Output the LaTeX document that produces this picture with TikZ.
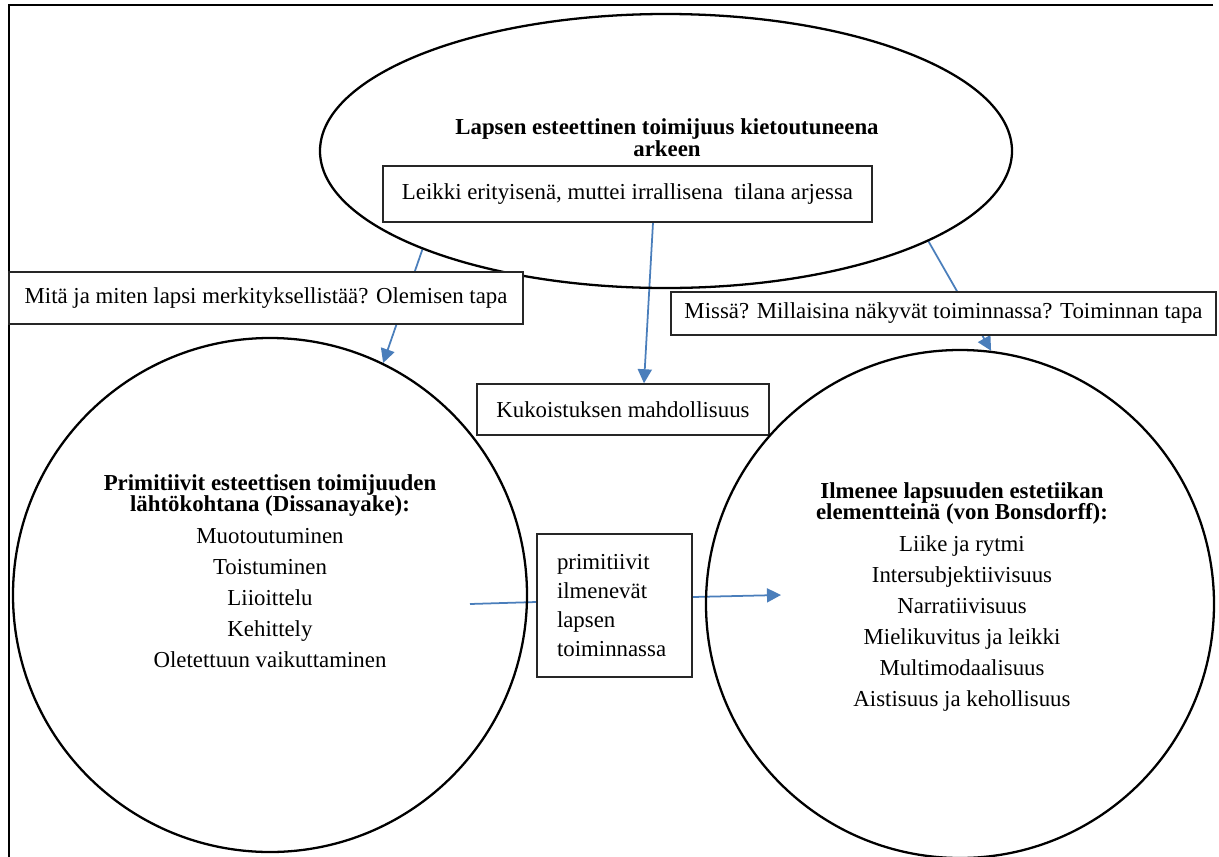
\documentclass[tikz,border=0pt]{standalone}
\usepackage{fontspec}
\setmainfont{Liberation Serif}
\definecolor{LinkBlue}{RGB}{74,126,187}
\usetikzlibrary{
    shapes.geometric,
    arrows.meta,
    backgrounds,
}

\begin{document}
\begin{tikzpicture}[
    ring/.style={ellipse, draw, line width=1.3pt, inner sep=0pt},
    box/.style={rectangle, draw=black!85, fill=white, line width=0.8pt, inner sep=0pt, font=\fontsize{13}{15}\selectfont},
    items/.style={font=\fontsize{13}{12}\selectfont, align=center},
    link/.style={draw=LinkBlue, line width=1pt},
    tip/.style={-{Triangle[length=8pt, width=8pt]}}
]
    \useasboundingbox (0,0) rectangle (24.38,-17.14);
    \draw[line width=1.1pt] (24.26,-0.10) -- (0.18,-0.10) -- (0.18,-17.3);

    \node[ring, minimum width=13.84cm, minimum height=5.48cm] (arki) at (13.32,-3.02) {};
    \node[items, font=\bfseries\fontsize{13}{12.5}\selectfont] (arkitxt) at (13.34,-2.76) {Lapsen esteettinen toimijuus kietoutuneena\\arkeen};
    \node[box, minimum width=9.78cm, minimum height=1.12cm] (leikki) at (12.55,-3.88) {Leikki erityisenä, muttei irrallisena~ tilana arjessa};

    \node[box, minimum width=10.28cm, minimum height=1.04cm] (mita) at (5.32,-5.96) {Mitä ja miten lapsi merkityksellistää? Olemisen tapa};
    \node[box, minimum width=10.9cm, minimum height=0.86cm] (missa) at (18.87,-6.27) {Missä? Millaisina näkyvät toiminnassa? Toiminnan tapa};
    \node[box, minimum width=5.84cm, minimum height=1.02cm] (kukoistus) at (12.46,-8.19) {Kukoistuksen mahdollisuus};

    \node[ring, minimum size=10.28cm] (dissa) at (5.40,-11.90) {};
    \node[ring, minimum size=10.16cm] (bons) at (19.20,-12.08) {};

    \node[items] (dissatxt) at (5.40,-11.42) {\textbf{Primitiivit esteettisen toimijuuden}\\\textbf{lähtökohtana (Dissanayake):}\\[6.1pt]
        Muotoutuminen\\[5.6pt] Toistuminen\\[5.6pt] Liioittelu\\[5.6pt] Kehittely\\[5.6pt] Oletettuun vaikuttaminen};
    \node[items] (bonstxt) at (19.24,-11.94) {\textbf{Ilmenee lapsuuden estetiikan}\\\textbf{elementteinä (von Bonsdorff):}\\[6.1pt]
        Liike ja rytmi\\[5.6pt] Intersubjektiivisuus\\[5.6pt] Narratiivisuus\\[5.6pt] Mielikuvitus ja leikki\\[5.6pt] Multimodaalisuus\\[5.6pt] Aistisuus ja kehollisuus};

    \node[box, minimum height=2.86cm, text width=2.3cm, inner xsep=0.4cm, align=left, font=\fontsize{13}{16.4}\selectfont] (prim) at (12.29,-12.11) {primitiivit\\ ilmenevät\\ lapsen\\ toiminnassa};
    \coordinate (primin) at (9.40,-12.08);
    \coordinate (primout) at (15.62,-11.90);

    \begin{scope}[on background layer]
        \draw[link, tip] (arki.202) -- (dissa.64);
        \draw[link, tip] (arki.341) -- (bons.83);
        \draw[link, tip] ([xshift=0.51cm]leikki.south) -- ([xshift=0.42cm]kukoistus.north);
        \draw[link] (primin) -- ([yshift=0.07cm]prim.west);
        \draw[link, tip] ([yshift=0.17cm]prim.east) -- (primout);
    \end{scope}
\end{tikzpicture}
\end{document}
